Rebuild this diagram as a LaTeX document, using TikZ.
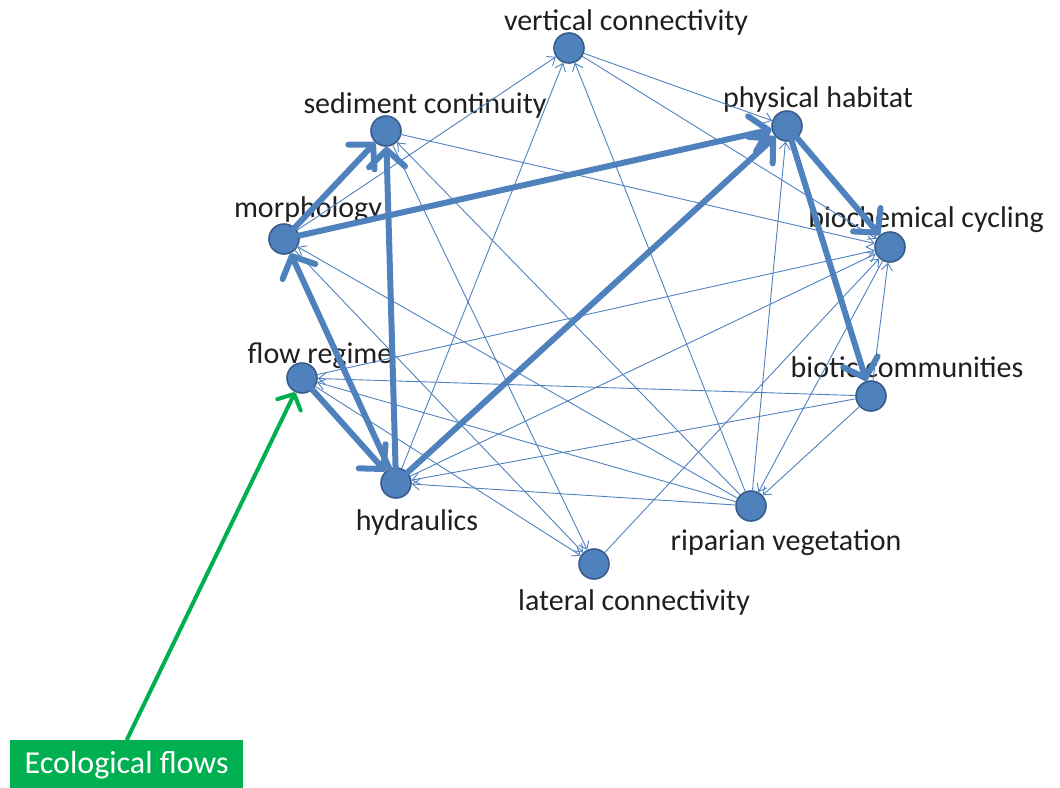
\documentclass[tikz,border=0pt]{standalone}
\usepackage{fontspec}
\setmainfont{Carlito}
\usetikzlibrary{arrows.meta}
\definecolor{nodeblue}{RGB}{79,129,189}
\definecolor{nodeline}{RGB}{56,93,138}
\definecolor{efgreen}{RGB}{0,176,80}
\begin{document}
\begin{tikzpicture}[x=1pt,y=-1pt,
  vert/.style={circle,fill=nodeblue,draw=nodeline,line width=1.6pt,minimum size=30pt,inner sep=0pt},
  lbl/.style={font=\fontsize{30}{34}\selectfont,text=black!88,inner sep=0pt,anchor=base},
  weak/.style={draw=nodeblue,line width=0.9pt,-{Straight Barb[length=7pt,width=11pt]}},
  strong/.style={draw=nodeblue,line width=6pt,line cap=round,-{Straight Barb[length=17pt,width=36pt,round]}},
  eco/.style={draw=efgreen,line width=4pt,-{Straight Barb[length=12pt,width=26pt,round]}}
]
\useasboundingbox (0,0) rectangle (1060,787);

% labels sit beneath the connectors
\node[lbl] (tVC) at (626,30)  {vertical connectivity};
\node[lbl] (tSC) at (425,113) {sediment continuity};
\node[lbl] (tPH) at (818,107) {physical habitat};
\node[lbl] (tMO) at (308,217) {morphology};
\node[lbl] (tBC) at (926,227) {biochemical cycling};
\node[lbl] (tFR) at (320,363) {flow regime};
\node[lbl] (tBI) at (907,377) {biotic communities};
\node[lbl] (tHY) at (417,530) {hydraulics};
\node[lbl] (tRV) at (786,550) {riparian vegetation};
\node[lbl] (tLC) at (634,610) {lateral connectivity};

% vertices
\node[vert] (VC) at (569,48)  {};
\node[vert] (SC) at (386,131) {};
\node[vert] (PH) at (787,126) {};
\node[vert] (MO) at (284,239) {};
\node[vert] (BC) at (890,247) {};
\node[vert] (FR) at (302,378) {};
\node[vert] (BI) at (871,396) {};
\node[vert] (HY) at (396,483) {};
\node[vert] (RV) at (751,506) {};
\node[vert] (LC) at (594,564) {};

% weak links
\draw[weak] (MO) -- (VC);
\draw[weak] (HY) -- (VC);
\draw[weak] (RV) -- (VC);
\draw[weak] (VC) -- (PH);
\draw[weak] (VC) -- (BC);
\draw[weak] (SC) -- (BC);
\draw[weak] (RV) -- (SC);
\draw[weak] (SC) -- (LC);
\draw[weak] (MO) -- (LC);
\draw[weak] (FR) -- (LC);
\draw[weak] (LC) -- (BC);
\draw[weak] (RV) -- (HY);
\draw[weak] (RV) -- (FR);
\draw[weak] (RV) -- (MO);
\draw[weak] (RV) -- (PH);
\draw[weak] (BC) -- (RV);
\draw[weak] (BI) -- (RV);
\draw[weak] (BI) -- (HY);
\draw[weak] (BI) -- (FR);
\draw[weak] (BI) -- (BC);
\draw[weak] (HY) -- (BC);
\draw[weak] (FR) -- (BC);

% strong links
\draw[strong] (MO) -- (SC);
\draw[strong] (HY) -- (SC);
\draw[strong] (MO) -- (PH);
\draw[strong] (HY) -- (PH);
\draw[strong] (PH) -- (BC);
\draw[strong] (PH) -- (BI);
\draw[strong] (FR) -- (HY);
\draw[strong] (HY) -- (MO);

% driver box
\node[fill=efgreen,text=white,font=\fontsize{32}{36}\selectfont,minimum width=233pt,minimum height=50pt,inner sep=0pt,anchor=north west] (EF) at (10,740) {Ecological flows};
\draw[eco] (EF.north) -- (FR);
\end{tikzpicture}
\end{document}
